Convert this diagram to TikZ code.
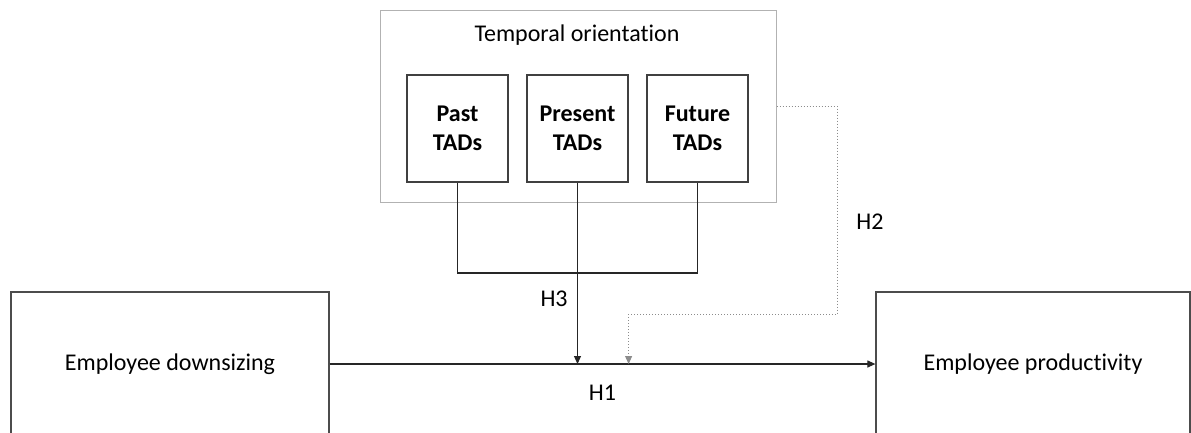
\documentclass[tikz,border=0pt]{standalone}
\usepackage{fontspec}
\setmainfont{Carlito}[Ligatures={NoCommon}]
\usetikzlibrary{arrows.meta}

\begin{document}
\begin{tikzpicture}[x=1pt,y=-1pt,>={Triangle[length=8pt,width=7pt]},
  font=\fontsize{24}{29}\selectfont]
 \tikzstyle{varbox} = [draw=black!70,line width=1.2pt,inner sep=0pt]
 \tikzstyle{tadbox} = [draw=black!75,line width=1.2pt,minimum width=101,minimum height=107,align=center,font=\fontsize{24}{29}\selectfont\bfseries]
 \tikzstyle{groupbox} = [draw=black!30,line width=1pt,minimum width=396,minimum height=192]
 \tikzstyle{link} = [draw=black!85,line width=1.1pt]
 \tikzstyle{dotlink} = [draw=black!45,line width=1pt,dotted]

 \useasboundingbox (0,0) rectangle (1191,432);
 \clip (0,0) rectangle (1191,432);

% Temporal orientation group
 \node[groupbox] (temporal) at (578,106) {};
 \node (title) at (577,35) {Temporal orientation};
 \node[tadbox] (past)    at (457.5,128.5) {Past\\TADs};
 \node[tadbox] (present) at (577.5,128.5) {Present\\TADs};
 \node[tadbox] (future)  at (697.5,128.5) {Future\\TADs};

% Main variables (cut off by the page edge)
 \node[varbox,minimum width=318,minimum height=144] (down) at (170,364) {Employee downsizing};
 \node[varbox,minimum width=314,minimum height=144] (prod) at (1033,364) {Employee productivity};

% Helper points
 \coordinate (join)  at (577.5,273);
 \coordinate (h3end) at (present.south |- down.east);
 \coordinate (h2turn) at (837,314);
 \coordinate (h2end) at (present.east |- down.east);

% Connectors
 \draw[link,->] (down.east) -- (prod.west) node[pos=0.5,below=17pt] (h1) {H1};
 \draw[link] (past.south) |- (join) -| (future.south);
 \draw[link,->] (present.south) -- (h3end) node[pos=0.64,left=6pt] (h3) {H3};
 \draw[dotlink,->] (temporal.east) -| (h2turn) -| (h2end);
 \node (h2) at (870,222) {H2};
\end{tikzpicture}
\end{document}
